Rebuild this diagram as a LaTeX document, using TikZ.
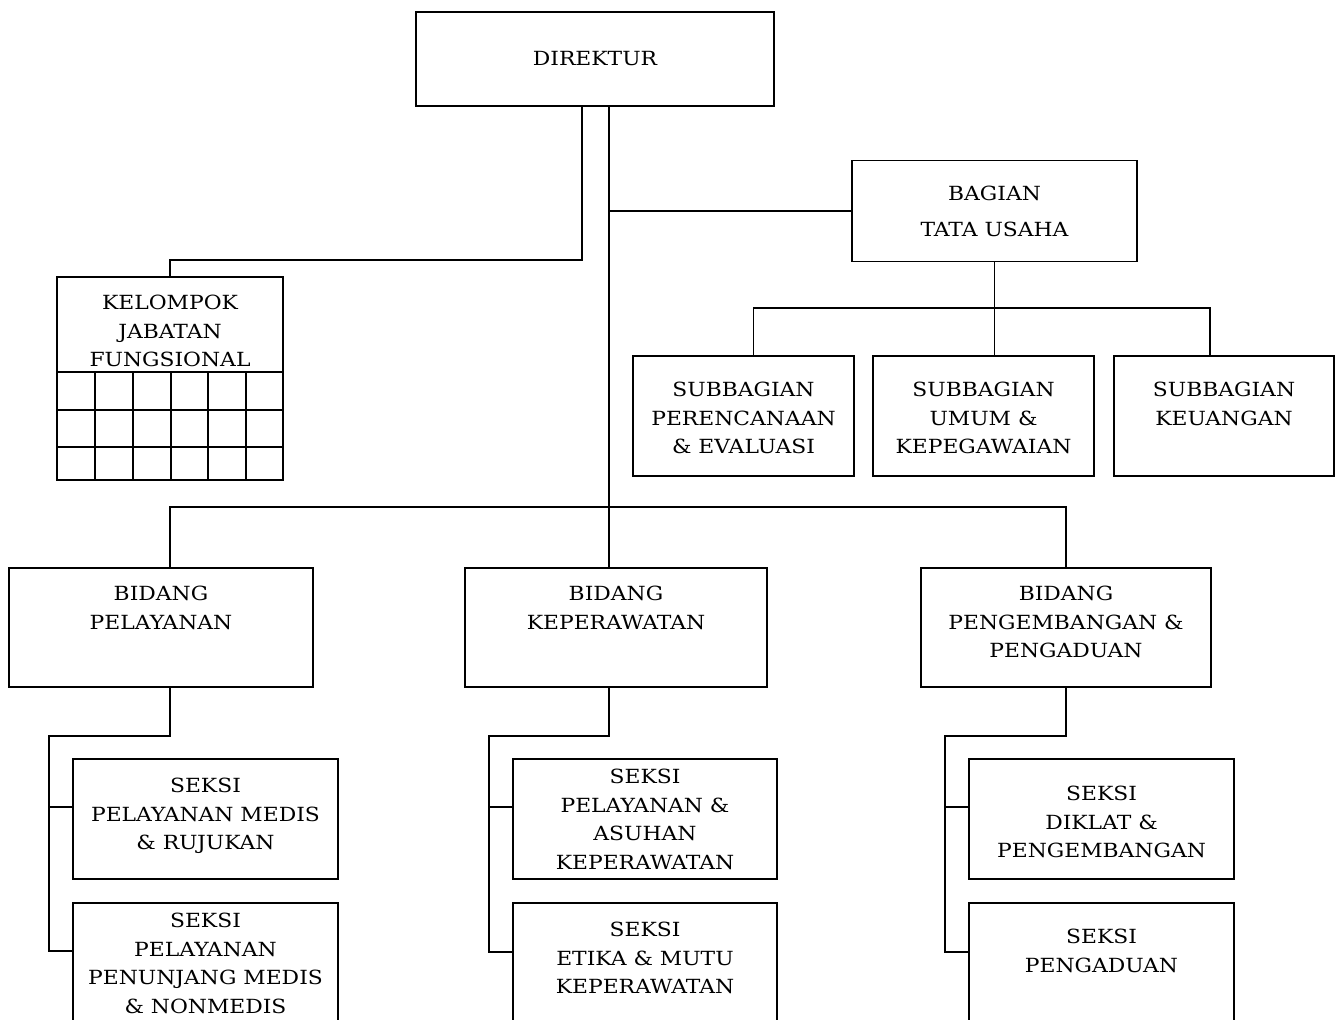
\documentclass[tikz,border=0pt]{standalone}
\usepackage{fontspec}
\newfontfamily\orgfont[FakeStretch=1.12]{DejaVu Serif}
\newcommand\orgtext{\orgfont\fontsize{19.5}{28.5}\selectfont}
\usetikzlibrary{positioning}
\tikzset{
  box/.style={draw, line width=1.5pt, inner sep=0pt},
  txt/.style={align=center, inner sep=0pt, font=\orgtext},
  conn/.style={line width=1.5pt},
}

\begin{document}
\begin{tikzpicture}[x=1pt, y=-1pt]
\useasboundingbox (0,0) rectangle (1339,1020);
\node[box, txt, minimum width=358pt, minimum height=94pt] (dir) at (595,59) {\raisebox{-2pt}{DIREKTUR}};
\node[box, txt, minimum width=285pt, minimum height=101pt] (bag) at (994.5,211) {BAGIAN\\[7.5pt]TATA USAHA};

\node[box, minimum width=221pt, minimum height=120pt] (sub1) at (743.5,416) {};
\node[box, minimum width=221pt, minimum height=120pt] (sub2) at (983.5,416) {};
\node[box, minimum width=220pt, minimum height=120pt] (sub3) at (1224,416) {};
\node[txt, anchor=north] (tsub1) at (743.5,382) {SUBBAGIAN\\PERENCANAAN\\\& EVALUASI};
\node[txt, anchor=north] (tsub2) at (983.5,382) {SUBBAGIAN\\UMUM \&\\KEPEGAWAIAN};
\node[txt, anchor=north] (tsub3) at (1224,382) {SUBBAGIAN\\KEUANGAN};

\node[box, minimum width=226pt, minimum height=203pt] (kel) at (170,378.5) {};
\node[txt, anchor=north] (tkel) at (170,295) {KELOMPOK\\JABATAN\\FUNGSIONAL};
\draw[conn] (kel.west |- 0,372) -- (kel.east |- 0,372);
\draw[conn] (kel.west |- 0,410) -- (kel.east |- 0,410);
\draw[conn] (kel.west |- 0,447) -- (kel.east |- 0,447);
\draw[conn] (95,372) -- (95,480);
\draw[conn] (133,372) -- (133,480);
\draw[conn] (171,372) -- (171,480);
\draw[conn] (208,372) -- (208,480);
\draw[conn] (246,372) -- (246,480);

\node[box, minimum width=304pt, minimum height=119pt] (bp) at (161,627.5) {};
\node[box, minimum width=302pt, minimum height=119pt] (bk) at (616,627.5) {};
\node[box, minimum width=290pt, minimum height=119pt] (bg) at (1066,627.5) {};
\node[txt, anchor=north] (tbp) at (161,586) {BIDANG\\PELAYANAN};
\node[txt, anchor=north] (tbk) at (616,586) {BIDANG\\KEPERAWATAN};
\node[txt, anchor=north] (tbg) at (1066,586) {BIDANG\\PENGEMBANGAN \&\\PENGADUAN};

\node[box, minimum width=265pt, minimum height=120pt] (s11) at (205.5,819) {};
\node[box, minimum width=265pt, minimum height=120pt] (s12) at (205.5,963) {};
\node[box, minimum width=264pt, minimum height=120pt] (s21) at (645,819) {};
\node[box, minimum width=264pt, minimum height=120pt] (s22) at (645,963) {};
\node[box, minimum width=265pt, minimum height=120pt] (s31) at (1101.5,819) {};
\node[box, minimum width=265pt, minimum height=120pt] (s32) at (1101.5,963) {};
\node[txt, anchor=north] (ts11) at (205.5,778) {SEKSI\\PELAYANAN MEDIS\\\& RUJUKAN};
\node[txt, anchor=north] (ts12) at (205.5,913) {SEKSI\\PELAYANAN\\PENUNJANG MEDIS\\\& NONMEDIS};
\node[txt, anchor=north] (ts21) at (645,769) {SEKSI\\PELAYANAN \&\\ASUHAN\\KEPERAWATAN};
\node[txt, anchor=north] (ts22) at (645,922) {SEKSI\\ETIKA \& MUTU\\KEPERAWATAN};
\node[txt, anchor=north] (ts31) at (1101.5,786) {SEKSI\\DIKLAT \&\\PENGEMBANGAN};
\node[txt, anchor=north] (ts32) at (1101.5,929) {SEKSI\\PENGADUAN};

\coordinate (kbend) at (170,260);
\coordinate (trunk) at (609,507);
\coordinate (tbus) at (994.5,308);
\coordinate (lbend) at (49,736);
\coordinate (mbend) at (489,736);
\coordinate (rbend) at (945,736);

\draw[conn] ([xshift=-13pt]dir.south) |- (kbend) -- (kel.north);
\draw[conn] ([xshift=14pt]dir.south) -- (trunk);
\draw[conn] (bag.west) -- (bag.west -| trunk);
\draw[conn] (bag.south) -- (bag.south |- sub2.north);
\draw[conn] ([xshift=10pt]sub1.north) |- (tbus) -| ([xshift=-14pt]sub3.north);
\draw[conn] (bp.north -| kbend) |- (trunk) -| (bg.north);
\draw[conn] (trunk) -- (trunk |- bk.north);

\draw[conn] (bp.south -| kbend) |- (lbend) |- ([yshift=12pt]s12.west);
\draw[conn] ([yshift=12pt]s11.west) -- ([yshift=12pt]s11.west -| lbend);
\draw[conn] (bk.south -| trunk) |- (mbend) |- ([yshift=11pt]s22.west);
\draw[conn] ([yshift=12pt]s21.west) -- ([yshift=12pt]s21.west -| mbend);
\draw[conn] (bg.south) |- (rbend) |- ([yshift=11pt]s32.west);
\draw[conn] ([yshift=12pt]s31.west) -- ([yshift=12pt]s31.west -| rbend);
\end{tikzpicture}
\end{document}
